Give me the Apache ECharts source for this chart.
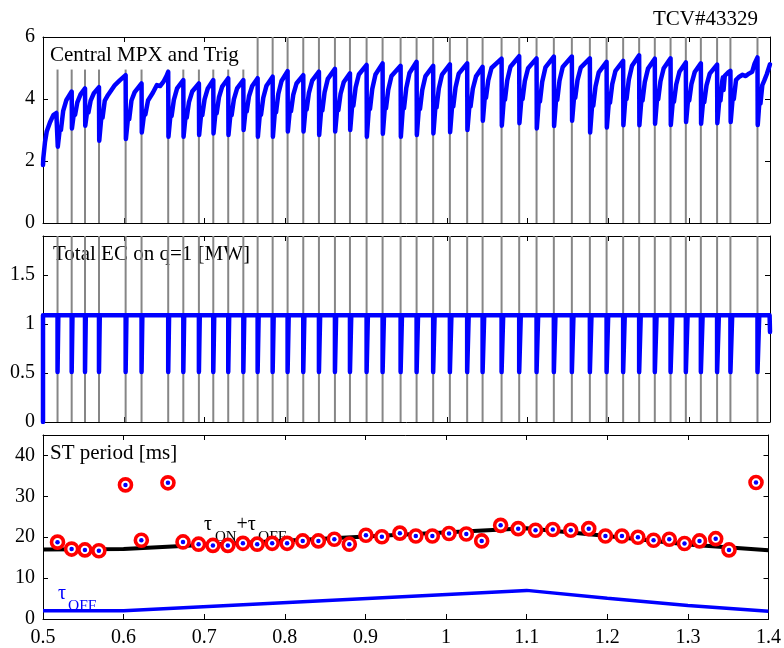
<!DOCTYPE html>
<html>
<head>
<meta charset="utf-8">
<script src="https://cdn.jsdelivr.net/npm/echarts@6/dist/echarts.min.js"></script>
<style>
html, body { margin: 0; padding: 0; background: #fff; }
#chart { width: 784px; height: 648px; }
</style>
</head>
<body>
<div id="chart"></div>
<script>
// ---- TCV #43329 : sawtooth pacing with modulated EC power ----

// Trigger (sawtooth crash) times [s]
const trigTimes = [0.5180, 0.5355, 0.5520, 0.5693, 0.6023, 0.6220, 0.6550, 0.6737, 0.6930, 0.7108,
  0.7293, 0.7480, 0.7657, 0.7843, 0.8028, 0.8222, 0.8416, 0.8614, 0.8800, 0.9006,
  0.9204, 0.9427, 0.9625, 0.9830, 1.0037, 1.0251, 1.0442, 1.0677, 1.0895, 1.1110,
  1.1324, 1.1547, 1.1770, 1.1977, 1.2182, 1.2380, 1.2574, 1.2769, 1.2958, 1.3144,
  1.3345, 1.3510, 1.3845];

// Trigger marker level in the MPX panel
const trigTop = [4.95, 4.95, 4.95, 4.95, 4.95, 4.95, 4.95, 4.95, 4.95, 4.95, 4.95, 4.95,
  6, 6, 6, 6, 6, 6, 6, 6, 6, 6, 6, 6, 6, 6, 6, 6, 6, 6, 6, 6, 6, 6, 6, 6, 6, 6, 6, 6, 6, 6, 6];

// Central MPX channel [t, signal]
const mpxTrace = [
  [0.5000, 1.87], [0.5004, 2.10], [0.5025, 2.62], [0.5046, 2.95], [0.5087, 3.25], [0.5128, 3.48], [0.5165, 3.55],
  [0.5180, 3.55], [0.5183, 2.46], [0.5210, 3.08], [0.5222, 3.00], [0.5250, 3.62], [0.5290, 3.97],
  [0.5355, 4.24], [0.5358, 3.05], [0.5385, 3.59], [0.5397, 3.49], [0.5425, 3.89], [0.5465, 4.15],
  [0.5520, 4.34], [0.5523, 3.14], [0.5550, 3.66], [0.5562, 3.56], [0.5590, 3.95], [0.5630, 4.19],
  [0.5693, 4.38], [0.5696, 2.65], [0.5725, 3.50], [0.5737, 3.40], [0.5765, 3.95], [0.5805, 4.13], [0.5890, 4.45], [0.5950, 4.60],
  [0.6023, 4.77], [0.6026, 2.71], [0.6055, 3.45], [0.6067, 3.35], [0.6095, 3.95], [0.6135, 4.22],
  [0.6220, 4.50], [0.6223, 2.92], [0.6255, 3.60], [0.6267, 3.50], [0.6300, 3.95], [0.6360, 4.20], [0.6410, 4.45], [0.6450, 4.42], [0.6490, 4.55], [0.6530, 4.75],
  [0.6550, 4.88], [0.6553, 2.78], [0.6580, 3.55], [0.6592, 3.45], [0.6620, 3.97], [0.6660, 4.34],
  [0.6737, 4.61], [0.6740, 2.78], [0.6767, 3.50], [0.6779, 3.40], [0.6807, 3.90], [0.6847, 4.24],
  [0.6930, 4.50], [0.6933, 2.84], [0.6960, 3.58], [0.6972, 3.48], [0.7000, 3.99], [0.7040, 4.34],
  [0.7108, 4.61], [0.7111, 2.89], [0.7138, 3.64], [0.7150, 3.54], [0.7178, 4.05], [0.7218, 4.40],
  [0.7293, 4.67], [0.7296, 2.84], [0.7323, 3.58], [0.7335, 3.48], [0.7363, 3.99], [0.7403, 4.34],
  [0.7480, 4.61], [0.7483, 3.00], [0.7510, 3.70], [0.7522, 3.60], [0.7550, 4.09], [0.7590, 4.42],
  [0.7657, 4.67], [0.7660, 2.78], [0.7687, 3.59], [0.7699, 3.49], [0.7727, 4.04], [0.7767, 4.43],
  [0.7843, 4.72], [0.7846, 2.78], [0.7873, 3.67], [0.7885, 3.57], [0.7913, 4.16], [0.7953, 4.58],
  [0.8028, 4.90], [0.8031, 2.95], [0.8058, 3.71], [0.8070, 3.61], [0.8098, 4.13], [0.8138, 4.50],
  [0.8222, 4.77], [0.8225, 2.95], [0.8252, 3.76], [0.8264, 3.66], [0.8292, 4.20], [0.8332, 4.59],
  [0.8416, 4.88], [0.8419, 2.84], [0.8446, 3.73], [0.8458, 3.63], [0.8486, 4.22], [0.8526, 4.65],
  [0.8614, 4.97], [0.8617, 2.95], [0.8644, 3.74], [0.8656, 3.64], [0.8684, 4.17], [0.8724, 4.55],
  [0.8800, 4.83], [0.8803, 3.00], [0.8830, 3.88], [0.8842, 3.78], [0.8870, 4.37], [0.8910, 4.79],
  [0.9006, 5.10], [0.9009, 2.78], [0.9036, 3.78], [0.9048, 3.68], [0.9076, 4.32], [0.9116, 4.79],
  [0.9204, 5.15], [0.9207, 2.88], [0.9234, 3.80], [0.9246, 3.70], [0.9274, 4.30], [0.9314, 4.74],
  [0.9427, 5.07], [0.9430, 2.78], [0.9457, 3.80], [0.9469, 3.70], [0.9497, 4.35], [0.9537, 4.84],
  [0.9625, 5.20], [0.9628, 2.84], [0.9655, 3.78], [0.9667, 3.68], [0.9695, 4.29], [0.9735, 4.74],
  [0.9830, 5.07], [0.9833, 2.89], [0.9860, 3.83], [0.9872, 3.73], [0.9900, 4.34], [0.9940, 4.79],
  [1.0037, 5.12], [1.0040, 2.93], [1.0067, 3.86], [1.0079, 3.76], [1.0107, 4.37], [1.0147, 4.82],
  [1.0251, 5.15], [1.0254, 3.00], [1.0281, 3.86], [1.0293, 3.76], [1.0321, 4.33], [1.0361, 4.73],
  [1.0442, 5.04], [1.0445, 3.30], [1.0472, 4.14], [1.0484, 4.04], [1.0512, 4.60], [1.0552, 5.00],
  [1.0677, 5.30], [1.0680, 3.14], [1.0707, 4.08], [1.0719, 3.98], [1.0747, 4.60], [1.0787, 5.04],
  [1.0895, 5.38], [1.0898, 3.22], [1.0925, 4.10], [1.0937, 4.00], [1.0965, 4.58], [1.1005, 4.99],
  [1.1110, 5.31], [1.1113, 3.05], [1.1140, 4.02], [1.1152, 3.92], [1.1180, 4.56], [1.1220, 5.02],
  [1.1324, 5.37], [1.1327, 3.13], [1.1354, 4.07], [1.1366, 3.97], [1.1394, 4.59], [1.1434, 5.03],
  [1.1547, 5.37], [1.1550, 3.30], [1.1577, 4.14], [1.1589, 4.04], [1.1617, 4.61], [1.1657, 5.01],
  [1.1770, 5.31], [1.1773, 2.92], [1.1800, 3.88], [1.1812, 3.78], [1.1840, 4.40], [1.1880, 4.86],
  [1.1977, 5.20], [1.1980, 3.08], [1.2007, 3.98], [1.2019, 3.88], [1.2047, 4.48], [1.2087, 4.91],
  [1.2182, 5.23], [1.2185, 3.15], [1.2212, 4.10], [1.2224, 4.00], [1.2252, 4.62], [1.2292, 5.07],
  [1.2380, 5.41], [1.2383, 3.15], [1.2410, 4.05], [1.2422, 3.95], [1.2450, 4.55], [1.2490, 4.98],
  [1.2574, 5.30], [1.2577, 3.20], [1.2604, 4.09], [1.2616, 3.99], [1.2644, 4.57], [1.2684, 4.99],
  [1.2769, 5.31], [1.2772, 3.16], [1.2799, 4.01], [1.2811, 3.91], [1.2839, 4.47], [1.2879, 4.88],
  [1.2958, 5.18], [1.2961, 3.26], [1.2988, 4.05], [1.3000, 3.95], [1.3028, 4.49], [1.3068, 4.87],
  [1.3144, 5.15], [1.3147, 3.20], [1.3174, 4.00], [1.3186, 3.90], [1.3214, 4.44], [1.3254, 4.82],
  [1.3345, 5.11], [1.3348, 3.22], [1.3375, 4.05], [1.3387, 3.95], [1.3410, 4.60], [1.3418, 4.70], [1.3425, 4.29], [1.3440, 4.75], [1.3480, 4.85],
  [1.3510, 4.91], [1.3513, 3.26], [1.3540, 4.10], [1.3552, 4.00], [1.3580, 4.62], [1.3620, 4.72], [1.3660, 4.78], [1.3700, 4.74], [1.3740, 4.82], [1.3780, 4.88], [1.3810, 5.15],
  [1.3845, 5.34], [1.3848, 3.16], [1.3870, 3.95], [1.3882, 3.85], [1.3905, 4.45], [1.3930, 4.60], [1.3960, 4.80], [1.4000, 5.12]
];

// EC power: nominal and reduced levels [MW], switch-off duration after each trigger [ms]
const ecOnMW = 1.09;
const ecOffMW = 0.51;
const ecOffMs = [1.0, 1.0, 1.0, 1.0, 1.0, 1.0, 1.1, 1.1, 1.1, 1.2,
  1.2, 1.2, 1.3, 1.3, 1.4, 1.4, 1.5, 1.5, 1.6, 1.6,
  1.7, 1.7, 1.8, 1.8, 1.9, 1.9, 2.0, 2.0, 2.0, 2.0,
  2.0, 2.0, 2.0, 2.0, 2.0, 2.0, 2.2, 2.2, 2.2, 2.2,
  2.2, 2.2, 2.2];
const ecEndMW = 0.92;

// Sawtooth period measured at each crash [ms]
const stPeriod = [18.8, 17.1, 16.9, 16.7, 32.8, 19.25, 33.3, 18.85, 18.3, 18.0,
  18.0, 18.5, 18.3, 18.5, 18.5, 19.1, 19.1, 19.5, 18.3, 20.5,
  20.1, 21.0, 20.3, 20.3, 20.9, 20.8, 19.1, 22.9, 22.1, 21.7,
  21.9, 21.7, 22.1, 20.3, 20.3, 20.0, 19.25, 19.5, 18.45, 19.1,
  19.65, 16.9, 33.4];

// Programmed tau_ON + tau_OFF and tau_OFF [ms]
const tauTimes = [0.5, 0.6, 1.1, 1.2, 1.3, 1.4];
const tauTotal = [17.0, 17.1, 22.2, 20.3, 18.2, 16.8];
const tauOff = [2.0, 2.0, 7.0, 5.1, 3.3, 1.9];

// Axis ranges
const xMin = 0.5, xMax = 1.4, xStep = 0.1;
const mpxMax = 6, mpxStep = 2;
const ecMax = 1.9, ecStep = 0.5;
const stMax = 45, stStep = 10;

// ---------------------------------------------------------------
const FONT = '"Liberation Serif", "Times New Roman", serif';
const BLUE = '#0000ff';
const GRAY = '#868686';

const ecTrace = [[xMin, 0], [xMin, ecOnMW]];
trigTimes.forEach((t, i) => {
  const tEnd = t + ecOffMs[i] / 1000;
  ecTrace.push([t, ecOnMW], [t, ecOffMW], [tEnd, ecOffMW], [tEnd, ecOnMW]);
});
ecTrace.push([xMax - 0.0005, ecOnMW], [xMax, ecEndMW]);

const grids = [
  { left: 43, top: 37, width: 727, height: 186 },
  { left: 43, top: 236, width: 727, height: 186 },
  { left: 43, top: 435, width: 727, height: 186 }
];

function xAxisFor(grid, pos, labels) {
  return {
    type: 'value', gridIndex: grid, position: pos,
    min: xMin, max: xMax, interval: xStep,
    axisLine: { show: true, onZero: false, lineStyle: { color: '#000', width: 1 } },
    axisTick: { show: true, inside: true, length: 5, lineStyle: { color: '#000', width: 1 } },
    axisLabel: {
      show: labels, color: '#000', fontFamily: FONT, fontSize: 20, margin: 9,
      formatter: v => String(+v.toFixed(1))
    },
    splitLine: { show: false }
  };
}
function yAxisFor(grid, pos, max, step, labels, showMax) {
  return {
    type: 'value', gridIndex: grid, position: pos,
    min: 0, max: max, interval: step,
    axisLine: { show: true, onZero: false, lineStyle: { color: '#000', width: 1 } },
    axisTick: { show: true, inside: true, length: 5, lineStyle: { color: '#000', width: 1 } },
    axisLabel: {
      show: labels, showMaxLabel: showMax, color: '#000', fontFamily: FONT, fontSize: 20, margin: 8,
      formatter: v => String(+v.toFixed(1))
    },
    splitLine: { show: false }
  };
}

function trigRender(params, api) {
  const x = api.value(0), h = api.value(1);
  const p0 = api.coord([x, 0]);
  const p1 = api.coord([x, h]);
  return {
    type: 'line',
    shape: { x1: p0[0], y1: p0[1], x2: p1[0], y2: p1[1] },
    style: { stroke: GRAY, lineWidth: 2 }
  };
}

function txt(text, x, y, size, color) {
  return {
    type: 'text', x: x, y: y, silent: true,
    style: {
      text: text, fontFamily: FONT, fontSize: size, fill: color,
      align: 'left', verticalAlign: 'middle', textAlign: 'left', textVerticalAlign: 'middle'
    }
  };
}

const option = {
  animation: false,
  backgroundColor: '#fff',
  grid: grids,
  xAxis: [
    xAxisFor(0, 'bottom', false), xAxisFor(0, 'top', false),
    xAxisFor(1, 'bottom', false), xAxisFor(1, 'top', false),
    xAxisFor(2, 'bottom', true), xAxisFor(2, 'top', false)
  ],
  yAxis: [
    yAxisFor(0, 'left', mpxMax, mpxStep, true, true), yAxisFor(0, 'right', mpxMax, mpxStep, false, false),
    yAxisFor(1, 'left', ecMax, ecStep, true, false), yAxisFor(1, 'right', ecMax, ecStep, false, false),
    yAxisFor(2, 'left', stMax, stStep, true, false), yAxisFor(2, 'right', stMax, stStep, false, false)
  ],
  series: [
    {
      type: 'custom', xAxisIndex: 0, yAxisIndex: 0, z: 1, silent: true,
      renderItem: trigRender,
      data: trigTimes.map((t, i) => [t, trigTop[i]])
    },
    {
      type: 'line', xAxisIndex: 0, yAxisIndex: 0, z: 2, silent: true,
      showSymbol: false, symbol: 'none',
      lineStyle: { color: BLUE, width: 4.5, join: 'round', cap: 'round' },
      data: mpxTrace
    },
    {
      type: 'custom', xAxisIndex: 2, yAxisIndex: 2, z: 1, silent: true,
      renderItem: trigRender,
      data: trigTimes.map(t => [t, ecMax])
    },
    {
      type: 'line', xAxisIndex: 2, yAxisIndex: 2, z: 2, silent: true,
      showSymbol: false, symbol: 'none',
      lineStyle: { color: BLUE, width: 4.5, join: 'round', cap: 'round' },
      data: ecTrace
    },
    {
      type: 'line', xAxisIndex: 4, yAxisIndex: 4, z: 2, silent: true,
      showSymbol: false, symbol: 'none',
      lineStyle: { color: '#000', width: 4 },
      data: tauTimes.map((t, i) => [t, tauTotal[i]])
    },
    {
      type: 'line', xAxisIndex: 4, yAxisIndex: 4, z: 2, silent: true,
      showSymbol: false, symbol: 'none',
      lineStyle: { color: BLUE, width: 3.5 },
      data: tauTimes.map((t, i) => [t, tauOff[i]])
    },
    {
      type: 'scatter', xAxisIndex: 4, yAxisIndex: 4, z: 3, silent: true,
      symbol: 'circle', symbolSize: 12,
      itemStyle: { color: '#fff', borderColor: '#ff0000', borderWidth: 3.6, opacity: 1 },
      data: trigTimes.map((t, i) => [t, stPeriod[i]])
    },
    {
      type: 'scatter', xAxisIndex: 4, yAxisIndex: 4, z: 4, silent: true,
      symbol: 'circle', symbolSize: 4.5,
      itemStyle: { color: BLUE, opacity: 1 },
      data: trigTimes.map((t, i) => [t, stPeriod[i]])
    }
  ],
  graphic: [
    txt('TCV#43329', 653, 19, 21, '#000'),
    txt('Central MPX and Trig', 50, 55.5, 21, '#000'),
    txt('Total EC on q=1 [MW]', 53, 254, 21, '#000'),
    txt('ST period [ms]', 50, 453.5, 21, '#000'),
    txt('τ', 204, 524.5, 20, '#000'),
    txt('ON', 215, 537, 15, '#000'),
    txt('+τ', 236.5, 524.5, 20, '#000'),
    txt('OFF', 258, 537, 15.5, '#000'),
    txt('τ', 58, 593.5, 20, BLUE),
    txt('OFF', 68, 606, 15.5, BLUE)
  ]
};

const chart = echarts.init(document.getElementById('chart'), null, { renderer: 'canvas' });
chart.setOption(option);
</script>
</body>
</html>
